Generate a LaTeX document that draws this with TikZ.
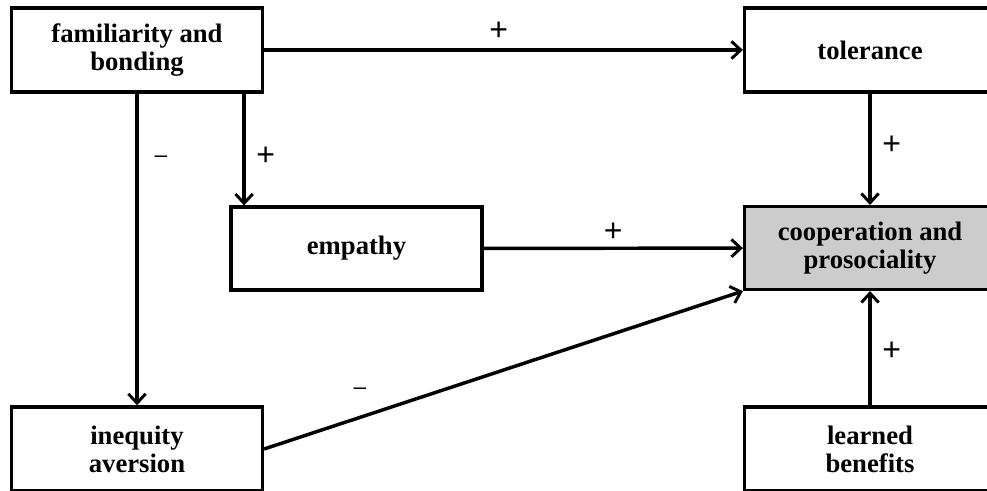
\documentclass[tikz,border=0pt]{standalone}
\usepackage{fontspec}
\setmainfont{Liberation Serif}
\newfontfamily\signfont{Liberation Sans}
\usetikzlibrary{arrows.meta, positioning}
\tikzset{
  box/.style={draw, rectangle, line width=2.6pt, minimum width=188pt, minimum height=63pt, inner sep=0pt, align=center, font=\fontsize{20}{21}\selectfont\bfseries},
  goal/.style={box, fill=gray!40},
  link/.style={-{Straight Barb[length=7pt,width=13pt,line width=2.2pt]}, line width=2.6pt},
  sign/.style={font=\signfont\fontsize{24}{24}\selectfont, inner sep=1pt},
  minus/.style={sign, font=\signfont\fontsize{17}{17}\selectfont},
}

\begin{document}
\begin{tikzpicture}[x=0.75pt, y=-0.75pt]
  \clip (0,0) rectangle (987,490);
  \node[box] (fam) at (137,50) {familiarity and\\bonding};
  \node[box] (tol) at (870,50) {tolerance};
  \node[box, minimum width=188pt, minimum height=62pt] (emp) at (356.5,248.5) {empathy};
  \node[goal, minimum height=62pt] (coop) at (870,248) {cooperation and\\prosociality};
  \node[box] (ineq) at (137,449) {inequity\\aversion};
  \node[box] (learn) at (870,449) {learned\\benefits};

  \draw[link] (fam) -- node[sign, pos=0.49, above=5pt]{+} (tol);
  \draw[link] (fam) -- node[minus, pos=0.21, right=11pt]{–} (ineq);
  \draw[link] ([xshift=-15pt]fam.south east) -- node[sign, pos=0.56, right=7pt]{+} ([xshift=-15pt]fam.south east |- emp.north);
  \draw[link] (tol) -- node[sign, pos=0.46, right=7pt]{+} (coop);
  \draw[link] (emp) -- node[sign, pos=0.5, above=3pt]{+} (coop);

  % inequity pulls the other way
  \draw[link] (ineq.east) -- node[minus, pos=0.2, above=15pt]{–} (coop.south west);
  \draw[link] (learn) -- node[sign, pos=0.47, right=7pt]{+} (coop);
\end{tikzpicture}
\end{document}
